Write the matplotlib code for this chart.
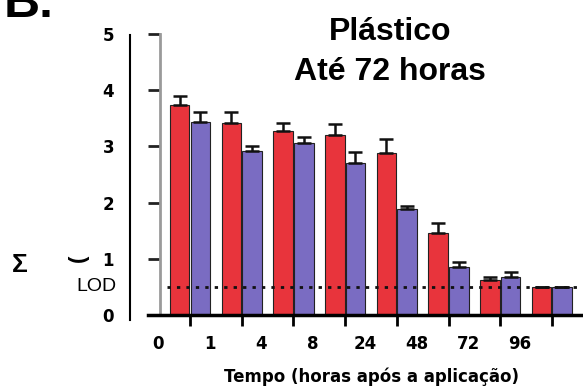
import matplotlib
matplotlib.use("Agg")
import matplotlib.pyplot as plt
import numpy as np
from matplotlib.lines import Line2D
from matplotlib.transforms import blended_transform_factory

plt.rcParams['font.family'] = ['Liberation Sans', 'DejaVu Sans']

time_labels = ["0", "1", "4", "8", "24", "48", "72", "96"]
red_values = [3.74, 3.42, 3.27, 3.20, 2.88, 1.46, 0.62, 0.50]
red_err = [0.16, 0.19, 0.15, 0.20, 0.25, 0.18, 0.06, 0.0]
blue_values = [3.43, 2.92, 3.06, 2.70, 1.89, 0.85, 0.68, 0.50]
blue_err = [0.18, 0.09, 0.11, 0.20, 0.05, 0.09, 0.09, 0.0]
lod = 0.5
yticks = [0, 1, 2, 3, 4, 5]

red_color = "#e8343c"
blue_color = "#7a6cc2"
wide_font = ["DejaVu Sans"]

fig = plt.figure(figsize=(5.83, 3.89), dpi=100)
ax = fig.add_axes([160/583, (389-315)/389, 1 - 160/583, (315-34)/389])

x = np.arange(len(time_labels))
w = 0.38
ax.bar(x - 0.2, red_values, w, color=red_color, edgecolor="#222222", linewidth=0.8, zorder=2)
ax.bar(x + 0.2, blue_values, w, color=blue_color, edgecolor="#222222", linewidth=0.8, zorder=2)
ax.errorbar(x - 0.2, red_values, yerr=[np.zeros(len(x)), red_err], fmt="none",
            ecolor="#111111", elinewidth=1.8, capsize=5, capthick=1.8, zorder=3)
ax.errorbar(x + 0.2, blue_values, yerr=[np.zeros(len(x)), blue_err], fmt="none",
            ecolor="#111111", elinewidth=1.8, capsize=5, capthick=1.8, zorder=3)

ax.axhline(lod, xmin=(167-160)/423, xmax=1, color="#111111", linestyle=(0, (1.2, 2.2)),
           linewidth=2, zorder=4)

ax.set_xlim(-0.58, 7.6)
ax.set_ylim(0, 5)

for s in ["top", "right"]:
    ax.spines[s].set_visible(False)
ax.spines["left"].set_color("#9a9a9a")
ax.spines["left"].set_linewidth(2)
ax.spines["bottom"].set_visible(False)
ax.axhline(0, xmin=-(160-148)/423, xmax=1, color="black", linewidth=2.5, clip_on=False, zorder=5)

ax.set_yticks(yticks)
ax.set_yticklabels([str(t) for t in yticks], fontsize=12, fontweight="bold", family=wide_font)
ax.tick_params(axis="y", length=9, width=2, color="#222222", pad=24, direction="out")

ax.set_xticks(x)
ax.set_xticklabels([""] * len(x))
ax.tick_params(axis="x", length=8, width=2, color="black", direction="out")
trans = blended_transform_factory(ax.transData, fig.transFigure)
for xi, lab in zip(x, time_labels):
    ax.text(xi - 0.62, 1 - 344/389, lab, transform=trans, ha="center", va="center",
            fontsize=12, fontweight="bold", family=wide_font)

fig.text(372/583, 1 - 377/389, "Tempo (horas após a aplicação)", ha="center", va="center",
         fontsize=12, fontweight="bold", family=wide_font)

trans_y = blended_transform_factory(fig.transFigure, ax.transData)
ax.text(117/583, lod, "LOD", transform=trans_y, ha="right", va="center", fontsize=14)

fig.text(390/583, 1 - 32/389, "Plástico", ha="center", va="center", fontsize=23, fontweight="bold")
fig.text(390/583, 1 - 72/389, "Até 72 horas", ha="center", va="center", fontsize=23, fontweight="bold")

fig.text(4/583, 1 - 17/389, "B.", ha="left", va="baseline", fontsize=36, fontweight="bold")

fig.text(20/583, 1 - 265/389, "Σ", ha="center", va="center", fontsize=19, fontweight="bold")
fig.text(78/583, 1 - 258/389, "(", ha="center", va="center", fontsize=16, fontweight="bold", rotation=90)

fig.add_artist(Line2D([130/583, 130/583], [1 - 320/389, 1 - 35/389], color="black", linewidth=1.5,
                      transform=fig.transFigure))

fig.savefig("out.png", dpi=100, facecolor="white")
